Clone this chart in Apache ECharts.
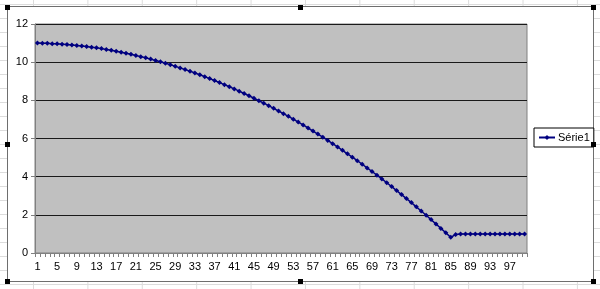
<!DOCTYPE html>
<html>
<head>
<meta charset="utf-8">
<script src="https://cdn.jsdelivr.net/npm/echarts@6/dist/echarts.min.js"></script>
<style>
html,body{margin:0;padding:0;width:600px;height:289px;overflow:hidden;}
body{
  background-color:#fff;
  background-image:
    linear-gradient(to right, #dcdcdc 1px, transparent 1px),
    linear-gradient(to bottom, #dcdcdc 1px, transparent 1px);
  background-size:54.4px 100%, 100% 14px;
  background-position:33px 0, 0 4px;
}
#c{width:600px;height:289px;}
</style>
</head>
<body>
<div id="c"></div>
<script>
var categories = [];
for (var k = 1; k <= 100; k++) categories.push(String(k));

var serie1 = [
  11.00, 10.99, 10.99, 10.97, 10.96, 10.94, 10.92, 10.90, 10.87, 10.85,
  10.82, 10.78, 10.75, 10.71, 10.66, 10.62, 10.57, 10.52, 10.47, 10.41,
  10.35, 10.29, 10.23, 10.16, 10.09, 10.02, 9.94, 9.87, 9.78, 9.70,
  9.61, 9.53, 9.43, 9.34, 9.24, 9.14, 9.04, 8.93, 8.82, 8.71,
  8.60, 8.48, 8.36, 8.24, 8.11, 7.98, 7.85, 7.72, 7.58, 7.44,
  7.30, 7.16, 7.01, 6.86, 6.71, 6.55, 6.39, 6.23, 6.07, 5.90,
  5.73, 5.56, 5.38, 5.20, 5.02, 4.84, 4.65, 4.46, 4.27, 4.08,
  3.88, 3.68, 3.48, 3.27, 3.06, 2.85, 2.64, 2.42, 2.20, 1.98,
  1.75, 1.52, 1.29, 1.06, 0.82, 0.97, 1.00, 1.00, 1.00, 1.00,
  1.00, 1.00, 1.00, 1.00, 1.00, 1.00, 1.00, 1.00, 1.00, 1.00
];

var yTicks = { min: 0, max: 12, interval: 2 };
var seriesName = 'Série1';

var chart = echarts.init(document.getElementById('c'), null, {renderer: 'canvas'});

function handle(x, y) {
  return { type: 'rect', shape: { x: x - 2, y: y - 2, width: 5, height: 5 },
           style: { fill: '#000' }, z: 100 };
}

chart.setOption({
  backgroundColor: 'transparent',
  animation: false,
  textStyle: { fontFamily: 'Liberation Sans, Arial, sans-serif' },
  graphic: [
    { type: 'rect', shape: { x: 7.5, y: 6.5, width: 586, height: 275 },
      style: { fill: '#fff', stroke: '#6e6e6e', lineWidth: 1 }, z: -10, silent: true },
    handle(7, 7), handle(300, 7), handle(593, 7),
    handle(7, 144), handle(593, 144),
    handle(7, 281), handle(300, 281), handle(593, 281)
  ],
  grid: {
    left: 35, top: 24, width: 492, height: 229,
    show: true, backgroundColor: '#c0c0c0',
    borderColor: '#808080', borderWidth: 1, containLabel: false
  },
  legend: {
    left: 534, top: 128,
    orient: 'vertical',
    data: [seriesName],
    backgroundColor: '#fff',
    borderColor: '#000', borderWidth: 1,
    padding: [4, 4, 4, 4],
    itemWidth: 16, itemHeight: 6, itemGap: 0,
    textStyle: { fontSize: 11, color: '#000', padding: [0, 0, 0, -2] }
  },
  xAxis: {
    type: 'category',
    data: categories,
    boundaryGap: true,
    axisLine: { show: true, lineStyle: { color: '#808080', width: 1 } },
    axisTick: { show: true, interval: 0, length: 4, alignWithLabel: false,
                lineStyle: { color: '#808080' } },
    axisLabel: { interval: 3, fontSize: 11, color: '#000', margin: 8 },
    splitLine: { show: false }
  },
  yAxis: {
    type: 'value',
    min: yTicks.min, max: yTicks.max, interval: yTicks.interval,
    axisLine: { show: true, lineStyle: { color: '#808080', width: 1 } },
    axisTick: { show: true, length: 4, lineStyle: { color: '#808080' } },
    axisLabel: { fontSize: 11, color: '#000', margin: 7 },
    splitLine: { show: true, lineStyle: { color: '#1a1a1a', width: 1 } }
  },
  series: [{
    name: seriesName,
    type: 'line',
    data: serie1,
    symbol: 'diamond',
    symbolSize: 5,
    showAllSymbol: true,
    lineStyle: { color: '#000080', width: 1.5 },
    itemStyle: { color: '#000080' }
  }]
});
</script>
</body>
</html>
